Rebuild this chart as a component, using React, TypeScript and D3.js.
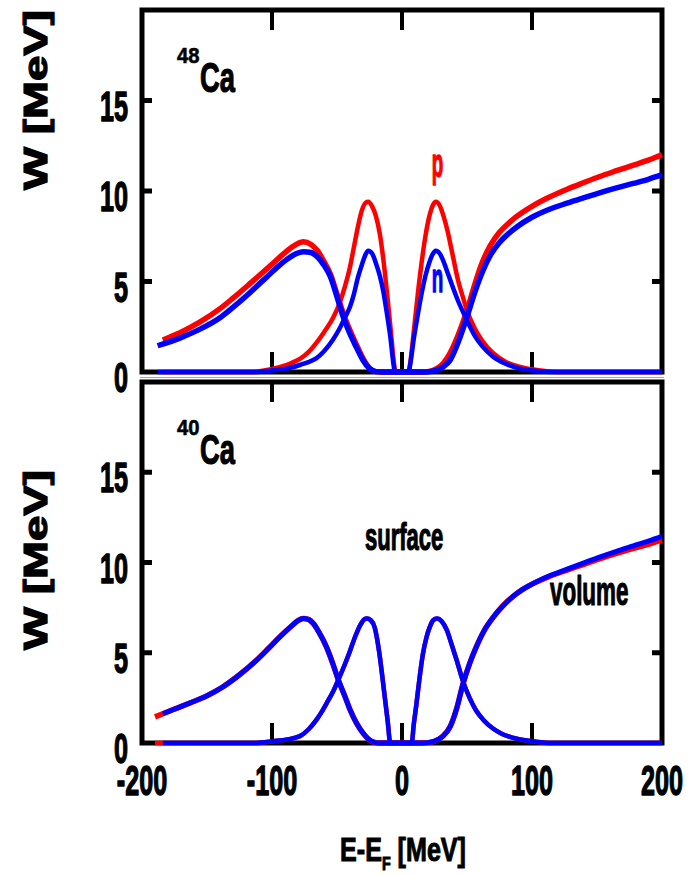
import React from "react";
import * as d3 from "d3";

type Pt = [number, number];

// x: E - E_F [MeV], y: W [MeV]
const xTickValues = [-100, 0, 100];
const xTickLabels = [-200, -100, 0, 100, 200];
const yTickValues = [5, 10, 15];
const yTickLabels = [0, 5, 10, 15];

// 48Ca
const ca48VolP: Pt[] = [[-184,1.77],[-170,2.2],[-155,2.78],[-140,3.5],[-130,4.08],[-117,4.88],[-104,5.7],[-95,6.28],[-88,6.72],[-82,7.02],[-76,7.2],[-70,7.05],[-65,6.7],[-60,6.1],[-55,5.4],[-50,4.3],[-45,3.2],[-40,2.3],[-35,1.5],[-30,0.75],[-25,0.2],[-20,0.02],[-15,0],[15,0],[22,0.05],[27,0.2],[32,0.5],[37,1.05],[43,2.0],[50,3.4],[56,4.85],[62,6.1],[68,7.0],[75,7.72],[82,8.22],[88,8.58],[100,9.15],[113,9.65],[127,10.1],[140,10.47],[152,10.8],[165,11.12],[178,11.43],[190,11.72],[200,12.0]];
const ca48VolN: Pt[] = [[-188,1.45],[-170,1.9],[-155,2.38],[-140,3.0],[-130,3.57],[-117,4.38],[-104,5.25],[-95,5.85],[-88,6.25],[-82,6.52],[-76,6.65],[-70,6.6],[-65,6.35],[-60,5.9],[-55,5.25],[-50,4.15],[-45,3.0],[-40,2.1],[-35,1.35],[-30,0.65],[-25,0.2],[-20,0.02],[-15,0],[15,0],[22,0.03],[27,0.1],[32,0.3],[37,0.65],[43,1.6],[50,3.05],[56,4.4],[62,5.55],[68,6.45],[75,7.15],[82,7.65],[88,8.0],[100,8.55],[113,8.98],[127,9.33],[140,9.63],[152,9.9],[165,10.17],[178,10.42],[190,10.66],[200,10.9]];
const ca48SurfP: Pt[] = [[-184,0],[-115,0],[-105,0.1],[-95,0.25],[-85,0.5],[-78,0.75],[-72,1.1],[-66,1.6],[-60,2.2],[-53,3.0],[-48,3.8],[-44,4.7],[-40,5.8],[-37,6.9],[-34,8.0],[-31,8.9],[-28,9.35],[-26,9.4],[-23,9.15],[-20,8.6],[-17,7.6],[-14,6.0],[-11,4.0],[-8.5,2.2],[-6,0.4],[-5,0],[5,0],[6.5,0.6],[9,2.2],[12,4.2],[15,6.0],[18,7.5],[21,8.6],[24,9.25],[26,9.4],[29,9.2],[32,8.6],[35,7.8],[38,6.8],[43,5.1],[47,4.1],[50,3.4],[56,2.4],[62,1.7],[70,1.05],[80,0.55],[90,0.3],[100,0.15],[110,0.05],[120,0],[200,0]];
const ca48SurfN: Pt[] = [[-188,0],[-115,0],[-105,0.05],[-95,0.12],[-85,0.25],[-78,0.4],[-72,0.55],[-66,0.75],[-60,1.15],[-53,1.8],[-48,2.4],[-44,3.0],[-40,3.6],[-37,4.3],[-34,5.2],[-31,5.9],[-28,6.5],[-26,6.7],[-23,6.55],[-20,6.0],[-17,5.3],[-14.5,4.5],[-12,3.4],[-9,1.95],[-6.5,0.4],[-5.5,0],[5,0],[6.5,0.5],[9,1.8],[12,3.1],[15,4.3],[18,5.3],[21,6.05],[23.5,6.5],[26,6.7],[29,6.55],[32,6.1],[35,5.5],[38,4.9],[43,3.95],[49,3.0],[56,2.0],[62,1.4],[70,0.85],[80,0.45],[90,0.2],[100,0.08],[110,0.02],[120,0],[200,0]];

// 40Ca
const ca40VolP: Pt[] = [[-190,1.45],[-184,1.62],[-175,1.88],[-163,2.22],[-150,2.62],[-138,3.1],[-125,3.78],[-112,4.58],[-103,5.22],[-94,5.88],[-85,6.48],[-80,6.78],[-76,6.9],[-72,6.85],[-68,6.6],[-64,6.15],[-58,5.3],[-53,4.35],[-49,3.5],[-44,2.6],[-40,1.85],[-35,1.1],[-30,0.55],[-24,0.12],[-18,0],[15,0],[20,0.02],[25,0.1],[31,0.35],[37,0.9],[42,1.9],[47,3.3],[52,4.4],[57,5.3],[63,6.2],[70,6.95],[77,7.55],[85,8.1],[92,8.47],[100,8.8],[113,9.22],[127,9.58],[140,9.9],[152,10.2],[165,10.5],[178,10.78],[190,11.02],[200,11.25]];
const ca40VolN: Pt[] = [[-184,1.62],[-175,1.88],[-163,2.22],[-150,2.62],[-138,3.1],[-125,3.78],[-112,4.58],[-103,5.22],[-94,5.88],[-85,6.48],[-80,6.78],[-76,6.9],[-72,6.85],[-68,6.6],[-64,6.15],[-58,5.3],[-53,4.35],[-49,3.5],[-44,2.6],[-40,1.85],[-35,1.1],[-30,0.55],[-24,0.12],[-18,0],[15,0],[20,0.02],[25,0.1],[31,0.35],[37,0.9],[42,1.9],[47,3.3],[52,4.4],[57,5.3],[63,6.2],[70,6.95],[77,7.55],[85,8.1],[92,8.47],[100,8.8],[113,9.25],[127,9.63],[140,9.98],[152,10.3],[165,10.62],[178,10.92],[190,11.2],[200,11.45]];
const ca40SurfP: Pt[] = [[-190,0],[-115,0],[-99,0.1],[-88,0.2],[-78,0.4],[-72,0.75],[-66,1.27],[-62,1.7],[-58,2.2],[-53,2.85],[-49,3.5],[-44,4.35],[-40,5.1],[-36,5.9],[-32,6.55],[-29,6.85],[-27,6.9],[-24,6.8],[-21,6.4],[-19,5.7],[-17,4.75],[-15,3.6],[-13,2.4],[-11,1.2],[-9,0],[7.5,0],[9,1.0],[11,2.1],[13.5,3.6],[16,4.9],[19,5.9],[21.5,6.45],[24,6.8],[27,6.9],[30.5,6.75],[34.5,6.25],[38,5.5],[42,4.6],[47,3.4],[52,2.5],[57,1.8],[63,1.25],[70,0.8],[77,0.5],[85,0.3],[100,0.1],[115,0],[200,0]];
const ca40SurfN: Pt[] = [[-184,0],[-115,0],[-99,0.1],[-88,0.2],[-78,0.4],[-72,0.75],[-66,1.27],[-62,1.7],[-58,2.2],[-53,2.85],[-49,3.5],[-44,4.35],[-40,5.1],[-36,5.9],[-32,6.55],[-29,6.85],[-27,6.9],[-24,6.8],[-21,6.4],[-19,5.7],[-17,4.75],[-15,3.6],[-13,2.4],[-11,1.2],[-9,0],[7.5,0],[9,1.0],[11,2.1],[13.5,3.6],[16,4.9],[19,5.9],[21.5,6.45],[24,6.8],[27,6.9],[30.5,6.75],[34.5,6.25],[38,5.5],[42,4.6],[47,3.4],[52,2.5],[57,1.8],[63,1.25],[70,0.8],[77,0.5],[85,0.3],[100,0.1],[115,0],[200,0]];

const RED = "#ff0000";
const BLUE = "#0000ff";
const FONT = "'Liberation Sans', Arial, Helvetica, sans-serif";

const W = 693;
const H = 875;
const X0 = 142;
const X1 = 662;

const x = d3.scaleLinear().domain([-200, 200]).range([X0, X1]);
const yTop = d3.scaleLinear().domain([0, 20]).range([372, 10]);
const yBot = d3.scaleLinear().domain([0, 20]).range([743, 382]);

function NText(props: {
  x: number; y: number; sx?: number; size: number; anchor?: string; fill?: string; sw?: number; children: React.ReactNode;
}) {
  const { x: tx, y: ty, sx = 1, size, anchor = "start", fill = "#000", sw = 1, children } = props;
  return (
    <g transform={`translate(${tx},${ty}) scale(${sx},1)`}>
      <text
        x={0}
        y={0}
        fontSize={size}
        fontFamily={FONT}
        fontWeight="bold"
        textAnchor={anchor as any}
        fill={fill}
        stroke={fill}
        strokeWidth={sw}
        strokeLinejoin="round"
      >
        {children}
      </text>
    </g>
  );
}

function Panel(props: {
  y: d3.ScaleLinear<number, number>;
  curves: { data: Pt[]; color: string; width: number }[];
  mass: string;
}) {
  const { y, curves, mass } = props;
  const line = d3
    .line<Pt>()
    .x((d) => x(d[0]))
    .y((d) => y(d[1]))
    .curve(d3.curveMonotoneX);
  const top = y(20);
  const bot = y(0);
  return (
    <g>
      <rect x={X0} y={top} width={X1 - X0} height={bot - top} fill="none" stroke="#000" strokeWidth={5} />
      {xTickValues.map((v) => (
        <g key={"xt" + v}>
          <line x1={x(v)} x2={x(v)} y1={top} y2={top + 20} stroke="#000" strokeWidth={4} />
          <line x1={x(v)} x2={x(v)} y1={bot} y2={bot - 20} stroke="#000" strokeWidth={4} />
        </g>
      ))}
      {yTickValues.map((v) => (
        <g key={"yt" + v}>
          <line x1={X0} x2={X0 + 10} y1={y(v)} y2={y(v)} stroke="#000" strokeWidth={5} />
          <line x1={X1} x2={X1 - 10} y1={y(v)} y2={y(v)} stroke="#000" strokeWidth={5} />
        </g>
      ))}
      {yTickLabels.map((v) => (
        <NText key={"yl" + v} x={128} y={y(v) + 20} sx={0.6} size={42} anchor="end" sw={1.4}>
          {String(v)}
        </NText>
      ))}
      {curves.map((c, i) => (
        <path
          key={i}
          d={line(c.data) || ""}
          fill="none"
          stroke={c.color}
          strokeWidth={c.width}
          strokeLinejoin="round"
        />
      ))}
      <NText x={177} y={top + 53} sx={0.92} size={22} sw={0.6}>
        {mass}
      </NText>
      <NText x={200} y={top + 82} sx={0.65} size={42} sw={1.2}>
        Ca
      </NText>
    </g>
  );
}

export default function App() {
  return (
    <svg
      width={W}
      height={H}
      viewBox={`0 0 ${W} ${H}`}
      style={{ position: "absolute", left: 0, top: 0, background: "#fff" }}
    >
      <rect x={0} y={0} width={W} height={H} fill="#fff" />
      <line x1={140} x2={664} y1={377.5} y2={377.5} stroke="#aaa" strokeWidth={1} />
      <Panel
        y={yTop}
        mass="48"
        curves={[
          { data: ca48VolP, color: RED, width: 5.5 },
          { data: ca48SurfP, color: RED, width: 4.5 },
          { data: ca48VolN, color: BLUE, width: 5.5 },
          { data: ca48SurfN, color: BLUE, width: 4.5 },
        ]}
      />
      <Panel
        y={yBot}
        mass="40"
        curves={[
          { data: ca40VolP, color: RED, width: 5.5 },
          { data: ca40SurfP, color: RED, width: 4.5 },
          { data: ca40VolN, color: BLUE, width: 5 },
          { data: ca40SurfN, color: BLUE, width: 4.5 },
        ]}
      />
      <NText x={437.5} y={177} sx={0.47} size={40} anchor="middle" fill={RED} sw={1.4}>
        p
      </NText>
      <NText x={437.5} y={292} sx={0.47} size={40} anchor="middle" fill={BLUE} sw={1.4}>
        n
      </NText>
      <NText x={365} y={550} sx={0.58} size={38} sw={1.2}>
        surface
      </NText>
      <NText x={550} y={605} sx={0.56} size={40} sw={1.2}>
        volume
      </NText>
      {xTickLabels.map((v) => (
        <NText key={"xl" + v} x={x(v)} y={795} sx={0.6} size={42} anchor="middle" sw={1.4}>
          {String(v)}
        </NText>
      ))}
      <g transform={`translate(403,861) scale(0.75,1)`}>
        <text
          x={0}
          y={0}
          fontSize={33.5}
          fontFamily={FONT}
          fontWeight="bold"
          textAnchor="middle"
          fill="#000"
          stroke="#000"
          strokeWidth={1}
        >
          E-E
          <tspan fontSize={19} dy={9}>F</tspan>
          <tspan dy={-9}> [MeV]</tspan>
        </text>
      </g>
      {[100, 560].map((cy) => (
        <g key={"ya" + cy} transform={`translate(47,${cy}) rotate(-90)`}>
          <text
            x={0}
            y={0}
            fontSize={33.5}
            fontFamily={FONT}
            fontWeight="bold"
            textAnchor="middle"
            textLength={180}
            lengthAdjust="spacingAndGlyphs"
            fill="#000"
            stroke="#000"
            strokeWidth={1.2}
          >
            W [MeV]
          </text>
        </g>
      ))}
    </svg>
  );
}
